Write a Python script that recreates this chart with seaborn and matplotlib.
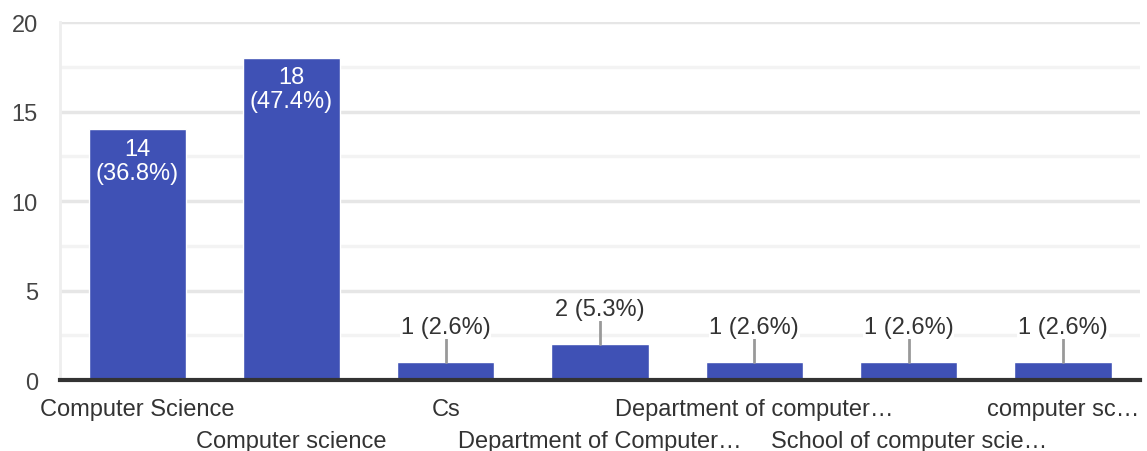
import numpy as np
import pandas as pd
import matplotlib
matplotlib.use("Agg")
import matplotlib.pyplot as plt
from matplotlib.transforms import ScaledTranslation
import seaborn as sns

# data
categories = ["Computer Science", "Computer science", "Cs", "Department of Computer\u2026",
              "Department of computer\u2026", "School of computer scie\u2026", "computer sc\u2026"]
counts = [14, 18, 1, 2, 1, 1, 1]
total = 38

df = pd.DataFrame({"answer": categories, "count": counts})

sns.set_style("white")
plt.rcParams["font.family"] = ["Liberation Sans", "DejaVu Sans"]

fig = plt.figure(figsize=(11.47, 4.52), dpi=100)
ax = fig.add_axes([0.0523, 0.157, 0.9417, 0.792])

sns.barplot(data=df, x="answer", y="count", order=categories, color="#3f51b5",
            saturation=1, width=0.63, ax=ax, zorder=3)

ax.set_ylim(0, 20)
ax.set_xlim(-0.5, len(categories) - 0.5)
ax.set_yticks([0, 5, 10, 15, 20])
ax.set_yticks(np.arange(2.5, 20, 5), minor=True)
ax.grid(axis="y", which="major", color="#e6e6e6", lw=2.5, zorder=0)
ax.grid(axis="y", which="minor", color="#f3f3f3", lw=2.5, zorder=0)
ax.set_xlabel("")
ax.set_ylabel("")

for s in ["top", "right"]:
    ax.spines[s].set_visible(False)
ax.spines["left"].set_color("#eeeeee")
ax.spines["left"].set_linewidth(2)
ax.spines["bottom"].set_color("#333333")
ax.spines["bottom"].set_linewidth(3)
ax.spines["bottom"].set_zorder(5)

ax.tick_params(axis="y", which="both", length=0, pad=16, labelsize=17, labelcolor="#444444")
ax.tick_params(axis="x", length=0, pad=13, labelsize=17, labelcolor="#333333")

ax.set_xticks(range(len(categories)))
ax.set_xticklabels(categories)
# stagger every second label onto a lower row
for i, lbl in enumerate(ax.get_xticklabels()):
    if i % 2 == 1:
        lbl.set_transform(lbl.get_transform() + ScaledTranslation(0, -0.32, fig.dpi_scale_trans))

for i, v in enumerate(counts):
    pct = v / total * 100
    if v >= 5:
        ax.text(i, v - 0.45, f"{v}\n({pct:.1f}%)", ha="center", va="top", color="white",
                fontsize=17, linespacing=1.15, zorder=6)
    else:
        ax.plot([i, i], [v, v + 1.3], color="#999999", lw=2, zorder=4)
        ax.text(i, v + 1.95, f"{v} ({pct:.1f}%)", ha="center", va="center", color="#333333",
                fontsize=17, zorder=6,
                bbox=dict(facecolor="white", edgecolor="none", pad=0.5))

fig.savefig("out.png", dpi=100)
